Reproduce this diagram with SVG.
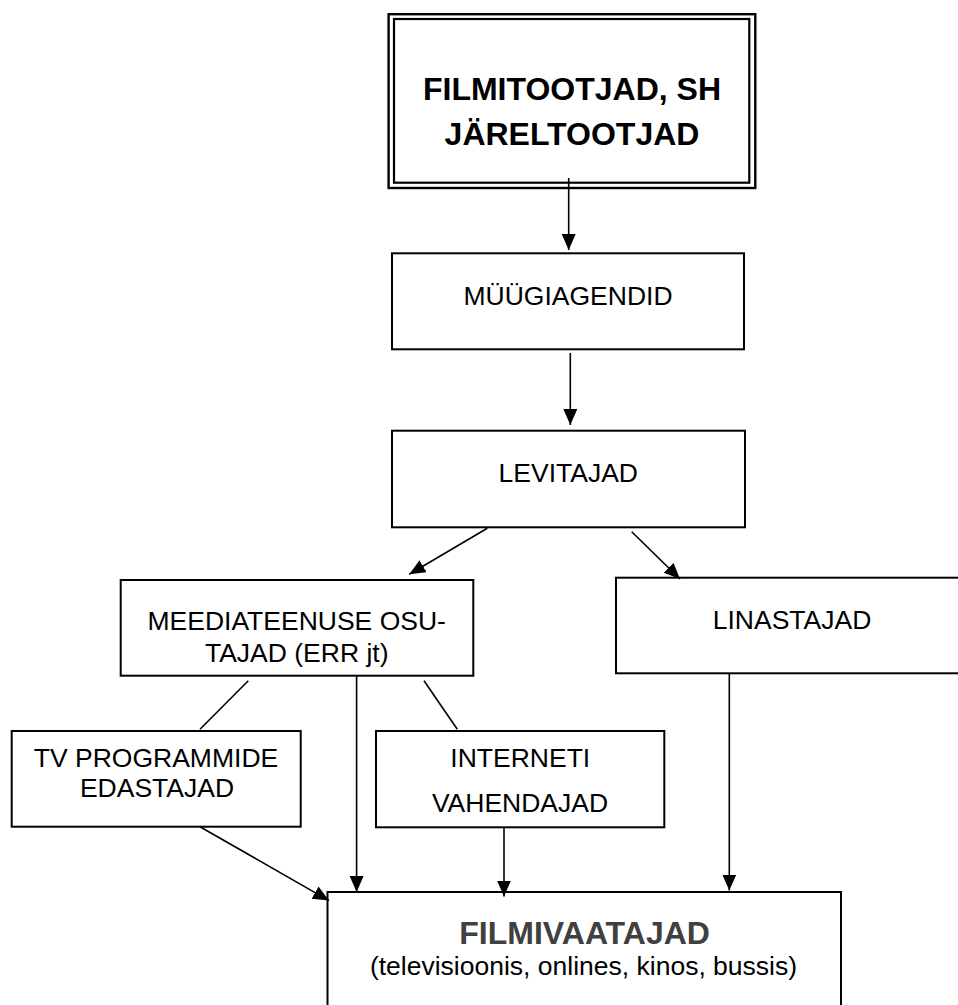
<svg xmlns="http://www.w3.org/2000/svg" width="958" height="1005" viewBox="0 0 958 1005">
<style>
  .box { fill: #ffffff; stroke: #000000; stroke-width: 2; }
  .t { font-family: "Liberation Sans", Arial, sans-serif; font-size: 26.5px; fill: #000000; text-anchor: middle; }
  .tb { font-family: "Liberation Sans", Arial, sans-serif; font-size: 32px; font-weight: bold; fill: #000000; text-anchor: middle; }
  .conn { stroke: #000000; stroke-width: 1.6; fill: none; }
</style>
<defs>
  <marker id="ah" markerUnits="userSpaceOnUse" markerWidth="17" markerHeight="15" refX="16" refY="7" orient="auto">
    <path d="M0,0 L16,7 L0,14 z" fill="#000000"/>
  </marker>
</defs>
<rect x="0" y="0" width="958" height="1005" fill="#ffffff"/>

<g id="n-filmitootjad">
  <rect x="388.6" y="14.2" width="366.7" height="173.8" fill="#ffffff" stroke="#000000" stroke-width="2.4"/>
  <rect x="394" y="19" width="355.3" height="163.7" fill="none" stroke="#000000" stroke-width="2.2"/>
  <text class="tb" x="572" y="100">FILMITOOTJAD, SH</text>
  <text class="tb" x="572" y="145">JÄRELTOOTJAD</text>
</g>

<g id="n-myygiagendid">
  <rect class="box" x="392" y="253.3" width="352" height="96"/>
  <text class="t" x="568" y="305">MÜÜGIAGENDID</text>
</g>

<g id="n-levitajad">
  <rect class="box" x="392" y="430.7" width="353" height="96.6"/>
  <text class="t" x="568.3" y="481.7">LEVITAJAD</text>
</g>

<g id="n-meediateenuse">
  <rect class="box" x="120.7" y="580" width="352.6" height="95.7"/>
  <text class="t" x="296.7" y="630">MEEDIATEENUSE OSU-</text>
  <text class="t" x="296.7" y="661.7">TAJAD (ERR jt)</text>
</g>

<g id="n-linastajad">
  <rect class="box" x="616" y="577.7" width="352" height="95.6"/>
  <text class="t" x="792" y="629">LINASTAJAD</text>
</g>

<g id="n-tv">
  <rect class="box" x="11.7" y="731" width="289" height="95.7"/>
  <text class="t" x="156" y="766.7">TV PROGRAMMIDE</text>
  <text class="t" x="157" y="797.3">EDASTAJAD</text>
</g>

<g id="n-interneti">
  <rect class="box" x="376" y="731" width="288.3" height="96.3"/>
  <text class="t" x="520.3" y="766.7">INTERNETI</text>
  <text class="t" x="520" y="812.3">VAHENDAJAD</text>
</g>

<g id="n-filmivaatajad">
  <rect class="box" x="327.5" y="892" width="513.5" height="130"/>
  <text class="tb" x="584.6" y="944.3" style="fill:#404040">FILMIVAATAJAD</text>
  <text class="t" x="583.5" y="975">(televisioonis, onlines, kinos, bussis)</text>
</g>

<g id="connectors">
  <line class="conn" x1="568.7" y1="178" x2="568.7" y2="250" marker-end="url(#ah)"/>
  <line class="conn" x1="570.3" y1="353" x2="570.3" y2="425" marker-end="url(#ah)"/>
  <line class="conn" x1="487.3" y1="528.3" x2="409.3" y2="574.3" marker-end="url(#ah)"/>
  <line class="conn" x1="631.7" y1="531.7" x2="680" y2="579" marker-end="url(#ah)"/>
  <line class="conn" x1="248.3" y1="680.7" x2="200" y2="729.3"/>
  <line class="conn" x1="424" y1="680.7" x2="457.3" y2="729.3"/>
  <line class="conn" x1="356.6" y1="675.7" x2="356.6" y2="892" marker-end="url(#ah)"/>
  <line class="conn" x1="504" y1="827.3" x2="504" y2="896.5" marker-end="url(#ah)"/>
  <line class="conn" x1="729.3" y1="673.3" x2="729.3" y2="890.5" marker-end="url(#ah)"/>
  <line class="conn" x1="200" y1="826.7" x2="329" y2="900.6" marker-end="url(#ah)"/>
</g>
</svg>
